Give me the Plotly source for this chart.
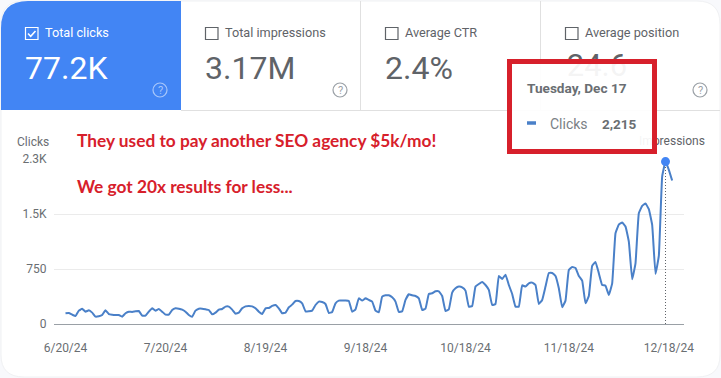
import pandas as pd
import plotly.graph_objects as go

W, H = 721, 378
start_date = "2024-06-20"
clicks = [
    146,150,127,109,182,209,168,187,155,100,105,123,187,136,127,123,123,100,146,168,
    164,173,177,114,114,168,214,182,205,168,127,127,191,214,209,196,168,123,100,182,
    209,209,200,191,132,155,196,205,237,237,196,141,155,214,241,246,241,214,168,136,
    214,218,246,259,214,146,155,228,264,314,314,282,173,173,182,259,305,300,273,150,
    164,282,319,319,319,314,168,200,350,319,350,328,305,182,159,373,391,391,364,305,
    164,173,328,405,391,382,350,191,209,410,419,446,446,382,177,200,428,487,510,500,
    455,237,246,510,546,573,532,464,259,273,655,614,673,532,410,237,237,528,510,555,
    564,532,273,328,510,696,696,655,487,228,319,737,778,764,655,592,282,382,792,846,
    692,532,523,396,555,1238,1356,1383,1329,1124,610,828,1511,1611,1643,1565,1351,683,928,2011,
    2215,2102,1956,
]
dates = pd.date_range(start_date, periods=len(clicks), freq="D")
peak_index = clicks.index(max(clicks))
x_ticks = ["2024-06-20", "2024-07-20", "2024-08-19", "2024-09-18", "2024-10-18", "2024-11-18", "2024-12-18"]
x_tick_labels = ["6/20/24", "7/20/24", "8/19/24", "9/18/24", "10/18/24", "11/18/24", "12/18/24"]
y_ticks = [0, 750, 1500, 2250]
y_tick_labels = ["0", "750", "1.5K", "2.3K"]

FONT = "Roboto"
GREY = "#5f6368"
TICK = "#6a6e72"
BLUE = "#4285f4"
LINE = "#4a80c8"
RED = "#d7202b"
CLEAR = "rgba(0,0,0,0)"

def px(x): return x / W
def py(y): return 1 - y / H

# date axis: 600 px for 180 days, day 0 at x = 65.5
d0 = pd.Timestamp(start_date)
x_range = [d0 + pd.Timedelta(days=(54 - 65.5) * 0.3), d0 + pd.Timedelta(days=(684 - 65.5) * 0.3)]

fig = go.Figure()
fig.add_trace(go.Scatter(x=dates, y=clicks, mode="lines", line=dict(color=LINE, width=2, shape="spline", smoothing=0.3),
                         hoverinfo="skip", showlegend=False, cliponaxis=False))
fig.add_trace(go.Scatter(x=[dates[peak_index], dates[peak_index]], y=[0, clicks[peak_index]], mode="lines",
                         line=dict(color="#5f6368", width=1, dash="1px,2px"), hoverinfo="skip", showlegend=False))
fig.add_trace(go.Scatter(x=[dates[peak_index]], y=[clicks[peak_index]], mode="markers",
                         marker=dict(color=BLUE, size=9), hoverinfo="skip", showlegend=False, cliponaxis=False))
# text that sits beneath the tooltip (pixel overlay axes)
fig.add_trace(go.Scatter(x=[597, 672], y=[68, 142], xaxis="x2", yaxis="y2", mode="text",
                         text=["24.6", "Impressions"], textposition="middle center",
                         textfont=dict(family=FONT, size=[31, 12], color=[GREY, GREY]),
                         hoverinfo="skip", showlegend=False, cliponaxis=False))

shapes = []
def rect(x0, y0, x1, y1, fill=None, line=None, width=1, layer="below"):
    shapes.append(dict(type="rect", xref="paper", yref="paper", x0=px(x0), x1=px(x1), y0=py(y0), y1=py(y1),
                       fillcolor=fill or CLEAR, line=dict(color=line or CLEAR, width=width if line else 0), layer=layer))
def hline(x0, x1, y, color="#e0e0e0", width=1):
    shapes.append(dict(type="line", xref="paper", yref="paper", x0=px(x0), x1=px(x1), y0=py(y), y1=py(y), line=dict(color=color, width=width), layer="below"))
def vline(x, y0, y1, color="#e0e0e0", width=1):
    shapes.append(dict(type="line", xref="paper", yref="paper", x0=px(x), x1=px(x), y0=py(y0), y1=py(y1), line=dict(color=color, width=width), layer="below"))
def path_px(points, **kw):
    d = ""
    for cmd, *pts in points:
        d += cmd + " ".join(f"{px(pts[i])},{py(pts[i+1])}" for i in range(0, len(pts), 2)) + " "
    shapes.append(dict(type="path", xref="paper", yref="paper", path=d.strip(), **kw))

# outer card
path_px([("M", 24, 1), ("L", 697, 1), ("Q", 720, 1, 720, 24), ("L", 720, 355), ("Q", 720, 377, 697, 377),
         ("L", 24, 377), ("Q", 1, 377, 1, 355), ("L", 1, 24), ("Q", 1, 1, 24, 1), ("Z",)],
        fillcolor="#ffffff", line=dict(color="#f0f1f3", width=1), layer="below")
# blue tab
path_px([("M", 28, 1), ("L", 181, 1), ("L", 181, 110), ("L", 1, 110), ("L", 1, 28), ("Q", 1, 1, 28, 1), ("Z",)],
        fillcolor=BLUE, line=dict(width=0), layer="below")
hline(181, 720, 110.5)
vline(360.5, 1, 110)
vline(540.5, 1, 110)

# check boxes
for bx, on in [(25, True), (205, False), (385, False), (565, False)]:
    rect(bx + 0.5, 27.5, bx + 13, 39.5, fill=None, line="#ffffff" if on else "#5f6368", width=1.2)
    if on:
        path_px([("M", bx + 3, 33.5), ("L", bx + 5.7, 36.3), ("L", bx + 10.5, 31)],
                line=dict(color="#ffffff", width=1.6), layer="below")

# help icons
for cx, col in [(160, "#a8c7fa"), (340, "#9aa0a6"), (700, "#9aa0a6")]:
    shapes.append(dict(type="circle", xref="paper", yref="paper", x0=px(cx - 7), x1=px(cx + 7), y0=py(83), y1=py(97),
                       line=dict(color=col, width=1.2), fillcolor=CLEAR, layer="below"))

# tooltip, covers the text below it
rect(510, 62, 654, 151, fill="rgba(255,255,255,0.93)", layer="above")
rect(509.5, 61.5, 654.5, 151.5, line=RED, width=5, layer="above")
shapes.append(dict(type="line", xref="paper", yref="paper", x0=px(527), x1=px(536), y0=py(123), y1=py(123),
                   line=dict(color=LINE, width=3.5), layer="above"))

annotations = []
def text(x, y, s, size, color, anchor="left", family=FONT, bold=False):
    annotations.append(dict(xref="paper", yref="paper", x=px(x), y=py(y), text=f"<b>{s}</b>" if bold else s, showarrow=False,
                            xanchor=anchor, yanchor="middle", font=dict(family=family, size=size, color=color)))
text(43, 32, "Total clicks", 12.7, "#ffffff")
text(223, 32, "Total impressions", 12.7, GREY)
text(403, 32, "Average CTR", 12.7, GREY)
text(583, 32, "Average position", 12.7, GREY)
text(23, 68, "77.2K", 32, "#ffffff")
text(203, 68, "3.17M", 32, GREY)
text(383, 68, "2.4%", 32, GREY)
for cx, col in [(160, "#a8c7fa"), (340, "#9aa0a6"), (700, "#9aa0a6")]:
    text(cx, 90, "?", 11, col, anchor="center")
text(525, 88, "Tuesday, Dec 17", 13.6, "#6a6e72", bold=True)
text(548, 124, "Clicks", 14, "#7a7f85")
text(639, 124, "2,215", 13.5, "#6a6e72", anchor="right", bold=True)
text(15, 142, "Clicks", 12, TICK)
text(75, 140, "They used to pay another SEO agency $5k/mo!", 17.3, RED, family="Lato", bold=True)
text(75, 186, "We got 20x results for less...", 17.3, RED, family="Lato", bold=True)

fig.update_layout(
    width=W, height=H, margin=dict(l=0, r=0, t=0, b=0, autoexpand=False), paper_bgcolor="#f8f9fc", plot_bgcolor=CLEAR,
    font=dict(family=FONT, size=12, color=GREY), showlegend=False, shapes=shapes, annotations=annotations,
    xaxis=dict(domain=[px(54), px(684)], range=x_range, type="date", tickmode="array", tickvals=x_ticks, ticktext=x_tick_labels,
               showgrid=False, zeroline=False, showline=False, ticks="outside", ticklen=13, tickcolor=CLEAR,
               tickfont=dict(size=12, color=TICK), anchor="y", automargin=False),
    yaxis=dict(domain=[py(324), py(159)], range=[0, 2250], tickmode="array", tickvals=y_ticks, ticktext=y_tick_labels,
               showgrid=True, gridcolor="#ebebeb", gridwidth=1, zeroline=True, zerolinecolor="#9aa0a6", zerolinewidth=1,
               showline=False, ticks="outside", ticklen=4, tickcolor=CLEAR, tickfont=dict(size=12, color=TICK), anchor="x", automargin=False),
    xaxis2=dict(domain=[0, 1], range=[0, W], visible=False, anchor="y2", automargin=False),
    yaxis2=dict(domain=[0, 1], range=[H, 0], visible=False, anchor="x2", automargin=False),
)
fig.write_html("out.html", config=dict(displayModeBar=False), post_script="document.body.style.margin='0';")
